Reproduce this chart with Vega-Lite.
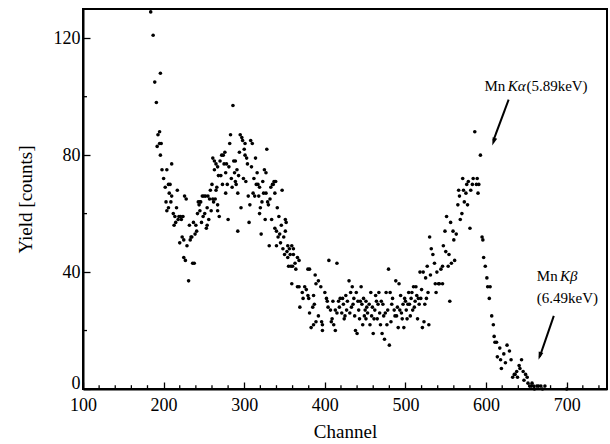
{
  "$schema": "https://vega.github.io/schema/vega-lite/v6.json",
  "width": 524,
  "height": 380,
  "autosize": {"type": "none"},
  "padding": {"left": 83, "top": 9, "right": 3, "bottom": 55},
  "background": "white",
  "config": {
    "font": "Liberation Serif",
    "view": {"stroke": "black", "strokeWidth": 2},
    "axis": {
      "domainColor": "black", "domainWidth": 2, "tickColor": "black", "tickWidth": 1.3,
      "labelColor": "black", "titleColor": "black", "labelFont": "Liberation Serif", "titleFont": "Liberation Serif",
      "labelFontSize": 18, "titleFontSize": 19, "titleFontWeight": "normal", "grid": false, "labelOverlap": false
    }
  },
  "layer": [
    {
      "data": {"values": [
{"c":184,"y":129},{"c":187,"y":121},{"c":189,"y":105},{"c":196,"y":108},{"c":191,"y":98},{"c":193,"y":87},{"c":195,"y":88},{"c":192,"y":83},{"c":195,"y":84},{"c":197,"y":84},
{"c":196,"y":80},{"c":198,"y":75},{"c":204,"y":75},{"c":200,"y":72},{"c":206,"y":70},{"c":208,"y":70},{"c":202,"y":69},{"c":207,"y":67},{"c":203,"y":64},{"c":209,"y":64},
{"c":210,"y":66},{"c":210,"y":77},{"c":204,"y":61},{"c":206,"y":62},{"c":217,"y":68},{"c":216,"y":62},{"c":214,"y":59},{"c":213,"y":56},{"c":219,"y":59},{"c":221,"y":59},
{"c":222,"y":58},{"c":220,"y":50},{"c":223,"y":52},{"c":225,"y":51},{"c":225,"y":45},{"c":227,"y":44},{"c":226,"y":66},{"c":228,"y":65},{"c":232,"y":56},{"c":231,"y":37},
{"c":234,"y":52},{"c":235,"y":52},{"c":236,"y":43},{"c":238,"y":43},{"c":239,"y":53},{"c":241,"y":54},{"c":243,"y":64},{"c":244,"y":63},{"c":245,"y":64},{"c":245,"y":61},
{"c":248,"y":66},{"c":250,"y":66},{"c":252,"y":66},{"c":247,"y":57},{"c":249,"y":59},{"c":254,"y":62},{"c":256,"y":58},{"c":254,"y":56},{"c":253,"y":55},{"c":258,"y":68},
{"c":261,"y":65},{"c":262,"y":64},{"c":261,"y":79},{"c":263,"y":78},{"c":265,"y":77},{"c":263,"y":75},{"c":267,"y":76},{"c":265,"y":68},{"c":267,"y":63},{"c":269,"y":59},
{"c":267,"y":61},{"c":271,"y":73},{"c":273,"y":70},{"c":272,"y":80},{"c":274,"y":80},{"c":276,"y":81},{"c":275,"y":77},{"c":278,"y":77},{"c":277,"y":67},{"c":279,"y":70},
{"c":283,"y":87},{"c":282,"y":84},{"c":280,"y":58},{"c":286,"y":97},{"c":287,"y":78},{"c":289,"y":78},{"c":288,"y":74},{"c":289,"y":71},{"c":290,"y":70},{"c":292,"y":67},
{"c":292,"y":54},{"c":295,"y":87},{"c":297,"y":86},{"c":296,"y":62},{"c":298,"y":85},{"c":300,"y":82},{"c":301,"y":84},{"c":301,"y":80},{"c":303,"y":79},{"c":304,"y":77},
{"c":305,"y":66},{"c":306,"y":57},{"c":308,"y":85},{"c":310,"y":84},{"c":311,"y":67},{"c":313,"y":66},{"c":314,"y":79},{"c":316,"y":74},{"c":317,"y":70},{"c":319,"y":69},
{"c":320,"y":62},{"c":319,"y":60},{"c":321,"y":53},{"c":323,"y":71},{"c":324,"y":67},{"c":325,"y":75},{"c":327,"y":74},{"c":328,"y":82},{"c":327,"y":67},{"c":329,"y":64},
{"c":330,"y":63},{"c":331,"y":49},{"c":335,"y":70},{"c":336,"y":70},{"c":337,"y":71},{"c":339,"y":71},{"c":338,"y":67},{"c":340,"y":49},{"c":338,"y":55},{"c":340,"y":54},
{"c":343,"y":59},{"c":344,"y":53},{"c":347,"y":68},{"c":351,"y":58},{"c":352,"y":57},{"c":351,"y":54},{"c":354,"y":49},{"c":356,"y":48},{"c":354,"y":45},{"c":357,"y":46},
{"c":355,"y":42},{"c":358,"y":42},{"c":360,"y":42},{"c":359,"y":49},{"c":361,"y":48},{"c":361,"y":46},{"c":363,"y":43},{"c":364,"y":41},{"c":366,"y":45},{"c":368,"y":44},
{"c":359,"y":36},{"c":366,"y":35},{"c":368,"y":35},{"c":369,"y":28},{"c":372,"y":33},{"c":373,"y":31},{"c":375,"y":35},{"c":377,"y":34},{"c":379,"y":41},{"c":381,"y":41},
{"c":379,"y":32},{"c":380,"y":31},{"c":381,"y":26},{"c":386,"y":32},{"c":388,"y":39},{"c":389,"y":36},{"c":392,"y":37},{"c":395,"y":35},{"c":387,"y":29},{"c":385,"y":28},
{"c":386,"y":22},{"c":383,"y":21},{"c":389,"y":23},{"c":392,"y":25},{"c":396,"y":23},{"c":397,"y":22},{"c":397,"y":20},{"c":400,"y":33},{"c":402,"y":31},{"c":403,"y":30},
{"c":405,"y":44},{"c":407,"y":27},{"c":408,"y":23},{"c":409,"y":24},{"c":410,"y":30},{"c":413,"y":20},{"c":415,"y":43},{"c":413,"y":27},{"c":415,"y":26},{"c":417,"y":30},
{"c":419,"y":31},{"c":421,"y":26},{"c":423,"y":29},{"c":424,"y":24},{"c":425,"y":25},{"c":426,"y":32},{"c":428,"y":30},{"c":430,"y":37},{"c":432,"y":33},{"c":433,"y":28},
{"c":434,"y":35},{"c":436,"y":31},{"c":437,"y":25},{"c":438,"y":20},{"c":440,"y":19},{"c":441,"y":30},{"c":443,"y":24},{"c":445,"y":35},{"c":446,"y":29},{"c":447,"y":22},
{"c":448,"y":31},{"c":450,"y":27},{"c":451,"y":30},{"c":451,"y":24},{"c":453,"y":26},{"c":455,"y":29},{"c":457,"y":33},{"c":458,"y":25},{"c":460,"y":19},{"c":462,"y":27},
{"c":463,"y":32},{"c":465,"y":24},{"c":466,"y":29},{"c":468,"y":26},{"c":470,"y":30},{"c":471,"y":19},{"c":473,"y":25},{"c":474,"y":17},{"c":476,"y":33},{"c":478,"y":27},
{"c":479,"y":41},{"c":480,"y":15},{"c":481,"y":33},{"c":482,"y":23},{"c":483,"y":29},{"c":486,"y":27},{"c":488,"y":37},{"c":489,"y":25},{"c":491,"y":21},{"c":492,"y":36},
{"c":493,"y":27},{"c":496,"y":24},{"c":497,"y":29},{"c":498,"y":21},{"c":499,"y":31},{"c":500,"y":30},{"c":502,"y":24},{"c":504,"y":33},{"c":505,"y":29},{"c":507,"y":31},
{"c":509,"y":27},{"c":510,"y":35},{"c":512,"y":30},{"c":513,"y":35},{"c":515,"y":24},{"c":516,"y":31},{"c":518,"y":40},{"c":520,"y":34},{"c":521,"y":21},{"c":522,"y":40},
{"c":523,"y":23},{"c":525,"y":38},{"c":526,"y":31},{"c":527,"y":42},{"c":530,"y":52},{"c":531,"y":39},{"c":532,"y":48},{"c":534,"y":46},{"c":536,"y":43},{"c":537,"y":36},
{"c":538,"y":33},{"c":539,"y":40},{"c":541,"y":36},{"c":542,"y":36},{"c":544,"y":41},{"c":546,"y":36},{"c":546,"y":42},{"c":547,"y":49},{"c":549,"y":54},{"c":550,"y":47},
{"c":551,"y":59},{"c":553,"y":42},{"c":554,"y":46},{"c":555,"y":30},{"c":556,"y":57},{"c":557,"y":43},{"c":559,"y":54},{"c":560,"y":51},{"c":561,"y":44},{"c":563,"y":53},
{"c":565,"y":63},{"c":566,"y":68},{"c":567,"y":66},{"c":568,"y":58},{"c":570,"y":60},{"c":571,"y":72},{"c":572,"y":68},{"c":573,"y":64},{"c":575,"y":67},{"c":576,"y":70},
{"c":577,"y":63},{"c":578,"y":71},{"c":580,"y":55},{"c":581,"y":68},{"c":583,"y":70},{"c":584,"y":72},{"c":586,"y":88},{"c":588,"y":70},{"c":589,"y":72},{"c":590,"y":67},
{"c":591,"y":70},{"c":593,"y":80},{"c":595,"y":52},{"c":596,"y":51},{"c":597,"y":45},{"c":599,"y":42},{"c":601,"y":38},{"c":602,"y":35},{"c":604,"y":31},{"c":605,"y":35},
{"c":607,"y":25},{"c":609,"y":22},{"c":610,"y":18},{"c":611,"y":16},{"c":613,"y":16},{"c":614,"y":11},{"c":617,"y":14},{"c":618,"y":10},{"c":619,"y":7},{"c":622,"y":12},
{"c":624,"y":9},{"c":626,"y":15},{"c":629,"y":13},{"c":631,"y":10},{"c":633,"y":4},{"c":635,"y":5},{"c":636,"y":5},{"c":638,"y":6},{"c":639,"y":4},{"c":641,"y":8},
{"c":642,"y":7},{"c":644,"y":10},{"c":646,"y":6},{"c":647,"y":3},{"c":649,"y":5},{"c":651,"y":4},{"c":652,"y":2},{"c":654,"y":1},{"c":656,"y":1},{"c":657,"y":2},
{"c":659,"y":1},{"c":660,"y":0},{"c":663,"y":1},{"c":665,"y":1},{"c":668,"y":1},{"c":670,"y":0},{"c":673,"y":1},{"c":700,"y":0},
{"c":404,"y":28},{"c":411,"y":22},{"c":418,"y":28},{"c":422,"y":31},{"c":427,"y":27},{"c":431,"y":26},{"c":435,"y":29},{"c":439,"y":33},{"c":442,"y":27},{"c":444,"y":30},
{"c":449,"y":25},{"c":452,"y":28},{"c":456,"y":22},{"c":459,"y":28},{"c":461,"y":24},{"c":464,"y":30},{"c":467,"y":33},{"c":469,"y":22},{"c":472,"y":29},{"c":475,"y":26},
{"c":477,"y":22},{"c":484,"y":31},{"c":487,"y":25},{"c":490,"y":28},{"c":494,"y":32},{"c":495,"y":26},{"c":501,"y":27},{"c":503,"y":29},{"c":506,"y":25},{"c":508,"y":33},
{"c":511,"y":28},{"c":514,"y":32},{"c":517,"y":29},{"c":519,"y":31},{"c":524,"y":29},{"c":528,"y":33},{"c":529,"y":22},
{"c":212,"y":60},{"c":215,"y":57},{"c":218,"y":58},{"c":224,"y":59},{"c":229,"y":49},{"c":233,"y":51},{"c":237,"y":57},{"c":240,"y":56},{"c":242,"y":60},{"c":246,"y":64},
{"c":251,"y":60},{"c":255,"y":66},{"c":257,"y":65},{"c":259,"y":61},{"c":260,"y":70},{"c":264,"y":65},{"c":266,"y":69},{"c":268,"y":73},{"c":270,"y":78},{"c":277,"y":74},
{"c":281,"y":76},{"c":284,"y":72},{"c":285,"y":69},{"c":291,"y":75},{"c":293,"y":73},{"c":294,"y":81},{"c":299,"y":72},{"c":302,"y":71},{"c":307,"y":63},{"c":309,"y":76},
{"c":312,"y":72},{"c":315,"y":70},{"c":318,"y":66},{"c":322,"y":64},{"c":326,"y":58},{"c":332,"y":65},{"c":333,"y":69},{"c":334,"y":58},{"c":341,"y":62},{"c":342,"y":52},
{"c":345,"y":50},{"c":346,"y":56},{"c":348,"y":48},{"c":349,"y":52},{"c":350,"y":46},{"c":353,"y":47}
      ]},
      "mark": {"type": "point", "filled": true, "shape": "circle", "size": 13, "color": "black", "opacity": 1},
      "encoding": {
        "x": {"field": "c", "type": "quantitative", "title": "Channel",
          "scale": {"domain": [100, 750], "nice": false, "zero": false},
          "axis": {
            "values": [100,200,300,400,500,600,700],
            "tickSize": -7, "labelPadding": 14, "titlePadding": 8, "labelFlush": false, "labelOverlap": false
          }},
        "y": {"field": "y", "type": "quantitative", "title": "Yield [counts]",
          "scale": {"domain": [0, 130], "nice": false},
          "axis": {
            "values": [0,40,80,120],
            "labelOffset": {"condition": {"test": "datum.value === 0", "value": -6}, "value": 0},
            "tickSize": -7, "labelPadding": 10, "titlePadding": 18, "labelFlush": false, "labelOverlap": false
          }}
      }
    },
    {
      "data": {"values": [
        {"c":120},{"c":140},{"c":160},{"c":180},{"c":220},{"c":240},{"c":260},{"c":280},{"c":320},{"c":340},{"c":360},{"c":380},
        {"c":420},{"c":440},{"c":460},{"c":480},{"c":520},{"c":540},{"c":560},{"c":580},{"c":620},{"c":640},{"c":660},{"c":680},{"c":720},{"c":740}
      ]},
      "mark": {"type": "rule", "strokeWidth": 1.3, "color": "black"},
      "encoding": {
        "x": {"field": "c", "type": "quantitative"},
        "y": {"datum": 0, "type": "quantitative"},
        "y2": {"datum": 1.3}
      }
    },
    {
      "data": {"values": [{"v":20},{"v":60},{"v":100}]},
      "mark": {"type": "rule", "strokeWidth": 1.3, "color": "black"},
      "encoding": {
        "y": {"field": "v", "type": "quantitative"},
        "x": {"datum": 100, "type": "quantitative"},
        "x2": {"datum": 105}
      }
    },
    {
      "data": {"values": [{"x": 628, "y": 99, "x2": 609, "y2": 85}, {"x": 684, "y": 25, "x2": 666.5, "y2": 11}]},
      "mark": {"type": "rule", "strokeWidth": 2, "color": "black"},
      "encoding": {
        "x": {"field": "x", "type": "quantitative"}, "y": {"field": "y", "type": "quantitative"},
        "x2": {"field": "x2"}, "y2": {"field": "y2"}
      }
    },
    {
      "data": {"values": [{"x": 609.3, "y": 84.6, "a": 20}, {"x": 666.6, "y": 11.3, "a": 18}]},
      "mark": {"type": "point", "shape": "M-0.6,-1L0.6,-1L0,1Z", "filled": true, "size": 64, "color": "black", "opacity": 1},
      "encoding": {
        "x": {"field": "x", "type": "quantitative"}, "y": {"field": "y", "type": "quantitative"},
        "angle": {"field": "a", "type": "quantitative", "scale": null}
      }
    },
    {
      "data": {"values": [
        {"x": 598, "y": 103.6, "t": "Mn"},
        {"x": 650, "y": 103.6, "t": "(5.89keV)"},
        {"x": 663, "y": 38.5, "t": "Mn"},
        {"x": 663, "y": 31, "t": "(6.49keV)"}
      ]},
      "mark": {"type": "text", "align": "left", "baseline": "middle", "fontSize": 15, "font": "Liberation Serif", "color": "black"},
      "encoding": {
        "x": {"field": "x", "type": "quantitative"}, "y": {"field": "y", "type": "quantitative"},
        "text": {"field": "t"}
      }
    },
    {
      "data": {"values": [
        {"x": 627, "y": 103.6, "t": "Kα"},
        {"x": 691.6, "y": 38.5, "t": "Kβ"}
      ]},
      "mark": {"type": "text", "align": "left", "baseline": "middle", "fontSize": 15, "fontStyle": "italic", "font": "Liberation Serif", "color": "black"},
      "encoding": {
        "x": {"field": "x", "type": "quantitative"}, "y": {"field": "y", "type": "quantitative"},
        "text": {"field": "t"}
      }
    }
  ]
}
